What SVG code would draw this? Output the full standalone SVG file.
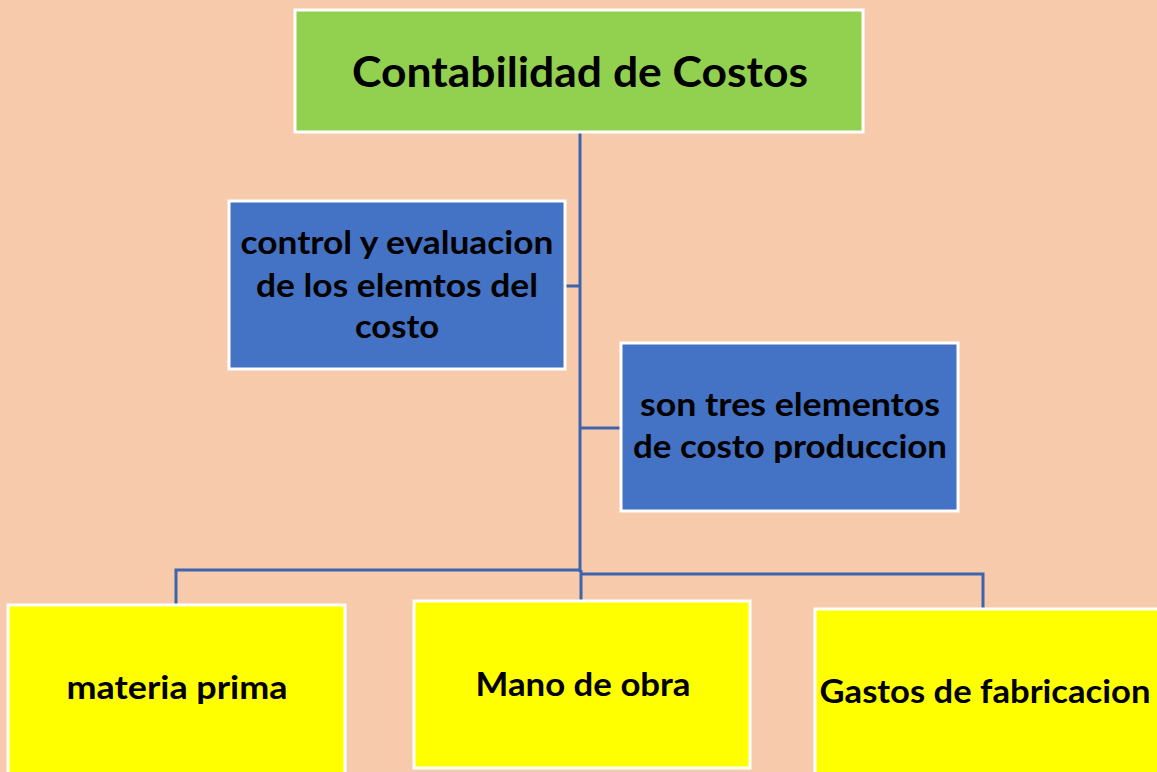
<svg xmlns="http://www.w3.org/2000/svg" width="1157" height="772" viewBox="0 0 1157 772">
<style>
.bg{fill:#F7CAAC}
.box{stroke:#FFFFFF;stroke-width:3}
.green{fill:#92D050}
.blue{fill:#4472C4}
.yellow{fill:#FFFF00}
.t{font-family:Lato,"Liberation Sans",sans-serif;font-weight:bold;fill:#000;text-anchor:middle}
.conn{stroke:#3D64AD;stroke-width:3;fill:none}
</style>
<rect class="bg" x="0" y="0" width="1157" height="772"/>
<g id="connectors">
<path class="conn" d="M580,132 V572"/>
<path class="conn" d="M565,286 H580"/>
<path class="conn" d="M580,428 H621"/>
<path class="conn" d="M580,570 H176 V604"/>
<path class="conn" d="M581,574 H983 V608"/>
<path class="conn" d="M581,570 V601"/>
</g>
<g id="node-top">
<rect class="box green" x="295" y="10" width="568" height="122"/>
<text class="t" x="580" y="87" font-size="42" textLength="456" lengthAdjust="spacingAndGlyphs">Contabilidad de Costos</text>
</g>
<g id="node-control">
<rect class="box blue" x="229" y="201" width="336" height="168"/>
<text class="t" x="397" y="254" font-size="32" textLength="313" lengthAdjust="spacingAndGlyphs">control y evaluacion</text>
<text class="t" x="397" y="297" font-size="32" textLength="282" lengthAdjust="spacingAndGlyphs">de los elemtos del</text>
<text class="t" x="397" y="338" font-size="32" textLength="84" lengthAdjust="spacingAndGlyphs">costo</text>
</g>
<g id="node-tres">
<rect class="box blue" x="621" y="343" width="337" height="168"/>
<text class="t" x="790" y="416" font-size="32" textLength="300" lengthAdjust="spacingAndGlyphs">son tres elementos</text>
<text class="t" x="790" y="458" font-size="32" textLength="314" lengthAdjust="spacingAndGlyphs">de costo produccion</text>
</g>
<g id="node-materia">
<rect class="box yellow" x="8" y="605" width="337" height="175"/>
<text class="t" x="177" y="699" font-size="32" textLength="221" lengthAdjust="spacingAndGlyphs">materia prima</text>
</g>
<g id="node-mano">
<rect class="box yellow" x="414" y="601" width="336" height="167"/>
<text class="t" x="583" y="696" font-size="32" textLength="215" lengthAdjust="spacingAndGlyphs">Mano de obra</text>
</g>
<g id="node-gastos">
<rect class="box yellow" x="815" y="609" width="345" height="175"/>
<text class="t" x="985" y="703" font-size="32" textLength="331" lengthAdjust="spacingAndGlyphs">Gastos de fabricacion</text>
</g>
</svg>
